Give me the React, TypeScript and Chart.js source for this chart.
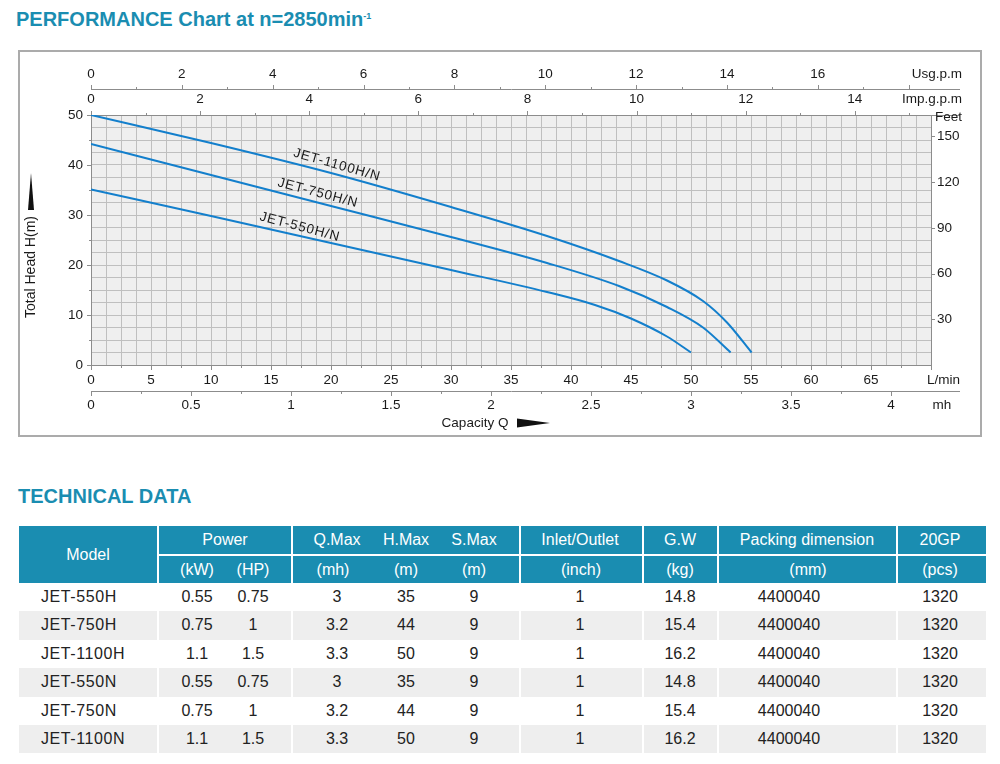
import React, { useEffect, useRef } from 'react';
import { Chart, registerables } from 'chart.js';

Chart.register(...registerables);

const FONT = "'Liberation Sans', Arial, Helvetica, sans-serif";

// ---------- performance curves: capacity Q (L/min) vs total head H (m) ----------
const curveNames = ['JET-1100H/N', 'JET-750H/N', 'JET-550H/N'];
const q1100 = [0, 10, 20, 30, 38, 44, 48, 51, 53, 55.05];
const h1100 = [50, 44.4, 38.4, 31.6, 25.8, 20.8, 16.9, 12.8, 8.5, 2.5];
const q750 = [0, 10, 20, 30, 38, 44, 48, 51, 53.3];
const h750 = [44.2, 38.0, 31.8, 25.6, 20.4, 15.8, 11.6, 7.5, 2.5];
const q550 = [0, 10, 20, 30, 38, 42, 45, 48, 50];
const h550 = [35.1, 29.8, 24.4, 19.0, 14.6, 12.0, 9.3, 5.7, 2.5];

// axis ranges and unit conversions
const Q_MAX = 70; // L/min
const H_MAX = 50; // m
const LPM_PER_M3H = 1000 / 60;
const LPM_PER_USG = 3.785411784;
const LPM_PER_IMP = 4.54609;
const M_PER_FT = 0.3048;

// tick label steps
const lpmLabelStep = 5;
const mhLabelStep = 0.5;
const galLabelStep = 2;
const usgLastLabel = 16;
const headLabelStep = 10;
const feetStep = 30;

// ---------- technical data ----------
const models = ['JET-550H', 'JET-750H', 'JET-1100H', 'JET-550N', 'JET-750N', 'JET-1100N'];
const powerKW = ['0.55', '0.75', '1.1', '0.55', '0.75', '1.1'];
const powerHP = ['0.75', '1', '1.5', '0.75', '1', '1.5'];
const qMax = ['3', '3.2', '3.3', '3', '3.2', '3.3'];
const hMax = ['35', '44', '50', '35', '44', '50'];
const sMax = ['9', '9', '9', '9', '9', '9'];
const inletOutlet = ['1', '1', '1', '1', '1', '1'];
const grossWeight = ['14.8', '15.4', '16.2', '14.8', '15.4', '16.2'];
const packingDim = ['4400040', '4400040', '4400040', '4400040', '4400040', '4400040'];
const per20GP = ['1320', '1320', '1320', '1320', '1320', '1320'];

// ---------- styling / layout (not data) ----------
const TEAL = '#1a8db1';
const CURVE = '#137fcc';
const GRID = '#bfbfbf';
const AXIS = '#8c8c8c';
const TXT = '#1a1a1a';
const TICK_FONT = { family: FONT, size: 13.5 };
const EXT_RIGHT = 940; // canvas x where the extended axis lines stop

const curveLabelAnchors = [
  { q: 20.5, h: 40.0, angle: 15.8 },
  { q: 18.9, h: 34.4, angle: 14.8 },
  { q: 17.4, h: 27.6, angle: 14.8 },
];

const isMult = (v: number, m: number) => Math.abs(v / m - Math.round(v / m)) < 1e-6;
const fixH = (h: number) => (scale: any) => { scale.height = h; };
const fixW = (w: number) => (scale: any) => { scale.width = w; };

const decorPlugin = {
  id: 'decor',
  beforeDraw(chart: any) {
    const { ctx, chartArea: a } = chart;
    ctx.save();
    ctx.fillStyle = '#efefef';
    ctx.fillRect(a.left, a.top, a.right - a.left, a.bottom - a.top);
    ctx.restore();
  },
  afterDraw(chart: any) {
    const { ctx, chartArea: a, scales: s } = chart;
    const px = (v: number) => Math.round(v) + 0.5;
    ctx.save();
    ctx.strokeStyle = AXIS;
    ctx.lineWidth = 1;
    const line = (x1: number, y1: number, x2: number, y2: number) => {
      ctx.beginPath();
      ctx.moveTo(x1, y1);
      ctx.lineTo(x2, y2);
      ctx.stroke();
    };
    // extended axis lines
    line(a.right, px(s.usg.bottom), EXT_RIGHT, px(s.usg.bottom));
    line(a.right, px(a.top), EXT_RIGHT, px(a.top));
    line(a.right, px(s.mh.top), EXT_RIGHT, px(s.mh.top));

    // tick marks
    for (const t of s.x.ticks) {
      const len = isMult(t.value, 5) ? 5 : isMult(t.value, 2.5) ? 3 : 0;
      if (!len) continue;
      const x = px(s.x.getPixelForValue(t.value));
      line(x, a.bottom, x, a.bottom + len);
    }
    for (const t of s.mh.ticks) {
      const len = isMult(t.value, 0.5) ? 5 : 3;
      const x = px(s.mh.getPixelForValue(t.value));
      line(x, s.mh.top, x, s.mh.top + len);
    }
    for (const t of s.imp.ticks) {
      const len = isMult(t.value, 2) ? 4 : 2;
      const x = px(s.imp.getPixelForValue(t.value));
      line(x, a.top, x, a.top - len);
    }
    for (const t of s.usg.ticks) {
      const len = isMult(t.value, 2) ? 4 : 2;
      const x = px(s.usg.getPixelForValue(t.value));
      line(x, s.usg.bottom, x, s.usg.bottom - len);
    }
    for (const t of s.y.ticks) {
      const len = isMult(t.value, 10) ? 4 : isMult(t.value, 5) ? 2 : 0;
      if (!len) continue;
      const y = px(s.y.getPixelForValue(t.value));
      line(a.left, y, a.left - len, y);
    }
    for (const t of s.feet.ticks) {
      if (t.value <= 0) continue;
      const y = px(s.feet.getPixelForValue(t.value));
      line(a.right, y, a.right + 4, y);
    }

    // unit labels
    ctx.fillStyle = TXT;
    ctx.font = `13.5px ${FONT}`;
    ctx.textBaseline = 'middle';
    ctx.textAlign = 'right';
    ctx.fillText('Usg.p.m', EXT_RIGHT + 2, s.usg.bottom - 15);
    ctx.fillText('Imp.g.p.m', EXT_RIGHT + 2, a.top - 16);
    ctx.fillText('Feet', EXT_RIGHT + 2, a.top + 2);
    ctx.fillText('L/min', EXT_RIGHT, a.bottom + 15);
    ctx.textAlign = 'center';
    ctx.fillText('mh', EXT_RIGHT - 18, s.mh.top + 14);
    ctx.fillText('Capacity Q', 455, s.mh.top + 32);

    // capacity arrow
    ctx.fillStyle = '#111';
    const ay = s.mh.top + 32;
    ctx.beginPath();
    ctx.moveTo(497, ay - 4.5);
    ctx.lineTo(530, ay);
    ctx.lineTo(497, ay + 4.5);
    ctx.closePath();
    ctx.fill();

    // vertical axis title + arrow
    ctx.save();
    ctx.translate(11, 215);
    ctx.rotate(-Math.PI / 2);
    ctx.fillStyle = TXT;
    ctx.font = `14px ${FONT}`;
    ctx.fillText('Total Head H(m)', 0, 0);
    ctx.restore();
    ctx.fillStyle = '#111';
    ctx.beginPath();
    ctx.moveTo(11, 121);
    ctx.lineTo(14, 158);
    ctx.lineTo(8, 158);
    ctx.closePath();
    ctx.fill();

    // curve labels
    ctx.fillStyle = TXT;
    ctx.font = `13.5px ${FONT}`;
    (ctx as any).letterSpacing = '0.9px';
    curveNames.forEach((name, i) => {
      const an = curveLabelAnchors[i];
      ctx.save();
      ctx.translate(s.x.getPixelForValue(an.q), s.y.getPixelForValue(an.h));
      ctx.rotate((an.angle * Math.PI) / 180);
      ctx.fillText(name, 0, 0);
      ctx.restore();
    });
    ctx.restore();
  },
};

function buildChart(canvas: HTMLCanvasElement) {
  const series = [
    { q: q1100, h: h1100 },
    { q: q750, h: h750 },
    { q: q550, h: h550 },
  ];
  const border = { display: true, color: AXIS, width: 1 };
  const noGrid = { display: false, drawTicks: false };
  return new Chart(canvas, {
    type: 'line',
    data: {
      datasets: series.map((c, i) => ({
        label: curveNames[i],
        data: c.q.map((q, j) => ({ x: q, y: c.h[j] })),
        borderColor: CURVE,
        borderWidth: 2,
        pointRadius: 0,
        fill: false,
        cubicInterpolationMode: 'monotone' as const,
        xAxisID: 'x',
        yAxisID: 'y',
      })),
    },
    options: {
      responsive: false,
      maintainAspectRatio: false,
      animation: false,
      events: [],
      devicePixelRatio: 1,
      layout: { padding: 0 },
      plugins: { legend: { display: false }, tooltip: { enabled: false } },
      scales: {
        x: {
          type: 'linear', position: 'bottom', weight: 0, min: 0, max: Q_MAX,
          afterFit: fixH(26),
          ticks: {
            stepSize: 1.25, autoSkip: false, includeBounds: false, maxRotation: 0, minRotation: 0,
            padding: 7, font: TICK_FONT, color: TXT,
            callback: (v: any) => (isMult(v, lpmLabelStep) && v < Q_MAX ? String(v) : ''),
          },
          grid: { color: GRID, lineWidth: 1, drawTicks: false },
          border,
        },
        mh: {
          type: 'linear', position: 'bottom', weight: 1, min: 0, max: Q_MAX / LPM_PER_M3H,
          afterFit: fixH(44),
          ticks: {
            stepSize: 0.25, autoSkip: false, includeBounds: false, maxRotation: 0, minRotation: 0,
            padding: 6, font: TICK_FONT, color: TXT,
            callback: (v: any) => (isMult(v, mhLabelStep) ? String(v) : ''),
          },
          grid: noGrid,
          border,
        },
        imp: {
          type: 'linear', position: 'top', weight: 0, min: 0, max: Q_MAX / LPM_PER_IMP,
          afterFit: fixH(26),
          ticks: {
            stepSize: 1, autoSkip: false, includeBounds: false, maxRotation: 0, minRotation: 0,
            padding: 8, font: TICK_FONT, color: TXT,
            callback: (v: any) => (isMult(v, galLabelStep) ? String(v) : ''),
          },
          grid: noGrid,
          border,
        },
        usg: {
          type: 'linear', position: 'top', weight: 1, min: 0, max: Q_MAX / LPM_PER_USG,
          afterFit: fixH(37),
          ticks: {
            stepSize: 1, autoSkip: false, includeBounds: false, maxRotation: 0, minRotation: 0,
            padding: 7, font: TICK_FONT, color: TXT,
            callback: (v: any) => (isMult(v, galLabelStep) && v <= usgLastLabel ? String(v) : ''),
          },
          grid: noGrid,
          border,
        },
        y: {
          type: 'linear', position: 'left', min: 0, max: H_MAX,
          afterFit: fixW(71),
          ticks: {
            stepSize: 2.5, autoSkip: false, includeBounds: false,
            padding: 8, font: TICK_FONT, color: TXT,
            callback: (v: any) => (isMult(v, headLabelStep) ? String(v) : ''),
          },
          grid: { color: GRID, lineWidth: 1, drawTicks: false },
          border,
        },
        feet: {
          type: 'linear', position: 'right', min: 0, max: H_MAX / M_PER_FT,
          afterFit: fixW(49),
          ticks: {
            stepSize: feetStep, autoSkip: false, includeBounds: false,
            padding: 6, font: TICK_FONT, color: TXT,
            callback: (v: any) => (v > 0 ? String(v) : ''),
          },
          grid: noGrid,
          border,
        },
      },
    } as any,
    plugins: [decorPlugin],
  });
}

// table layout (page coordinates)
const groupX: [number, number][] = [[19, 157], [159, 291], [293, 519], [521, 642], [644, 717], [719, 896], [898, 986]];
const HEAD_TOP = 526;
const HEAD_MID = 553.5;
const HEAD_MID2 = 555.5;
const HEAD_BOTTOM = 583;
const ROW_H = 28.4;
const colCenters = [0, 197, 253, 337, 406, 474, 580, 680, 789, 940];
const MODEL_LEFT = 41;

const abs = (left: number, top: number, width: number, height: number, extra: any = {}) => ({
  position: 'absolute' as const, left, top, width, height, ...extra,
});

function CenterText({ cx, top, h, color, children }: any) {
  return (
    <div style={abs(cx - 80, top, 160, h, { textAlign: 'center', lineHeight: `${h}px`, color, fontSize: 16, whiteSpace: 'nowrap' })}>
      {children}
    </div>
  );
}

export default function App() {
  const ref = useRef<HTMLCanvasElement>(null);
  useEffect(() => {
    const chart = buildChart(ref.current!);
    return () => chart.destroy();
  }, []);

  const rows = models.map((m, i) => [m, powerKW[i], powerHP[i], qMax[i], hMax[i], sMax[i], inletOutlet[i], grossWeight[i], packingDim[i], per20GP[i]]);
  const h1 = HEAD_MID - HEAD_TOP;
  const h2 = HEAD_BOTTOM - HEAD_MID2;

  return (
    <div style={{ position: 'absolute', left: 0, top: 0, width: 1000, height: 764, background: '#fff', fontFamily: FONT, overflow: 'hidden' }}>
      <div style={abs(16, 9, 600, 20, { color: TEAL, fontWeight: 'bold', fontSize: 20, lineHeight: '20px', whiteSpace: 'nowrap' })}>
        PERFORMANCE Chart at n=2850min
        <span style={{ fontSize: 9, position: 'relative', top: -7 }}>-1</span>
      </div>

      <div style={abs(18, 50, 964, 387, { border: '2px solid #ababab', boxSizing: 'border-box' })} />
      <canvas ref={ref} width={960} height={383} style={abs(20, 52, 960, 383)} />

      <div style={abs(18, 486, 400, 20, { color: TEAL, fontWeight: 'bold', fontSize: 20, lineHeight: '20px', whiteSpace: 'nowrap' })}>
        TECHNICAL DATA
      </div>

      {/* header backgrounds */}
      <div style={abs(groupX[0][0], HEAD_TOP, groupX[0][1] - groupX[0][0], HEAD_BOTTOM - HEAD_TOP, { background: TEAL })} />
      {groupX.slice(1).map(([a, b], k) => (
        <React.Fragment key={'hg' + k}>
          <div style={abs(a, HEAD_TOP, b - a, h1, { background: TEAL })} />
          <div style={abs(a, HEAD_MID2, b - a, h2, { background: TEAL })} />
        </React.Fragment>
      ))}

      {/* header texts */}
      <CenterText cx={88} top={HEAD_TOP} h={HEAD_BOTTOM - HEAD_TOP} color="#fff">Model</CenterText>
      <CenterText cx={225} top={HEAD_TOP} h={h1} color="#fff">Power</CenterText>
      <CenterText cx={337} top={HEAD_TOP} h={h1} color="#fff">Q.Max</CenterText>
      <CenterText cx={406} top={HEAD_TOP} h={h1} color="#fff">H.Max</CenterText>
      <CenterText cx={474} top={HEAD_TOP} h={h1} color="#fff">S.Max</CenterText>
      <CenterText cx={580} top={HEAD_TOP} h={h1} color="#fff">Inlet/Outlet</CenterText>
      <CenterText cx={680} top={HEAD_TOP} h={h1} color="#fff">G.W</CenterText>
      <CenterText cx={807} top={HEAD_TOP} h={h1} color="#fff">Packing dimension</CenterText>
      <CenterText cx={940} top={HEAD_TOP} h={h1} color="#fff">20GP</CenterText>

      <CenterText cx={197} top={HEAD_MID2} h={h2} color="#fff">(kW)</CenterText>
      <CenterText cx={253} top={HEAD_MID2} h={h2} color="#fff">(HP)</CenterText>
      <CenterText cx={333} top={HEAD_MID2} h={h2} color="#fff">(mh)</CenterText>
      <CenterText cx={406} top={HEAD_MID2} h={h2} color="#fff">(m)</CenterText>
      <CenterText cx={474} top={HEAD_MID2} h={h2} color="#fff">(m)</CenterText>
      <CenterText cx={581} top={HEAD_MID2} h={h2} color="#fff">(inch)</CenterText>
      <CenterText cx={680} top={HEAD_MID2} h={h2} color="#fff">(kg)</CenterText>
      <CenterText cx={808} top={HEAD_MID2} h={h2} color="#fff">(mm)</CenterText>
      <CenterText cx={940} top={HEAD_MID2} h={h2} color="#fff">(pcs)</CenterText>

      {/* data rows */}
      {rows.map((r, i) => {
        const top = HEAD_BOTTOM + i * ROW_H;
        return (
          <React.Fragment key={'r' + i}>
            {i % 2 === 1 &&
              groupX.map(([a, b], k) => (
                <div key={'bg' + k} style={abs(a, top, b - a, ROW_H, { background: '#eeeeee' })} />
              ))}
            <div style={abs(MODEL_LEFT, top, 110, ROW_H, { lineHeight: `${ROW_H}px`, fontSize: 16, color: '#222', letterSpacing: '0.6px', whiteSpace: 'nowrap' })}>
              {r[0]}
            </div>
            {r.slice(1).map((val, k) => (
              <CenterText key={'c' + k} cx={colCenters[k + 1]} top={top} h={ROW_H} color="#222">
                {val}
              </CenterText>
            ))}
          </React.Fragment>
        );
      })}
    </div>
  );
}
